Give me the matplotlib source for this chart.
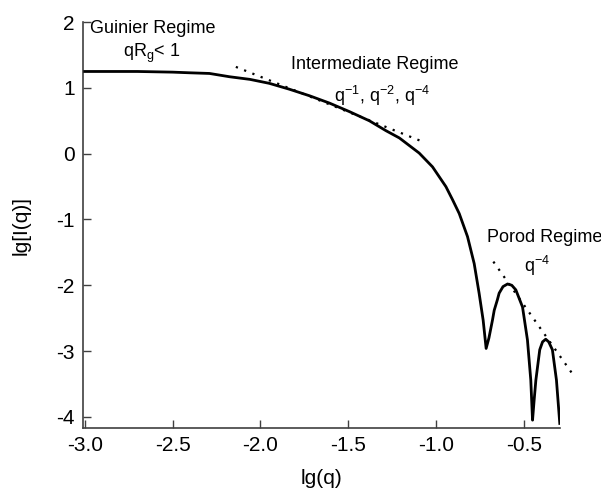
import matplotlib
matplotlib.use("Agg")
import matplotlib.pyplot as plt

# scattering curve: lg(q) vs lg[I(q)]
lg_q = [-3.0, -2.7, -2.5, -2.403, -2.29, -2.176, -2.06, -1.95, -1.835, -1.72,
        -1.608, -1.494, -1.38, -1.286, -1.21, -1.097, -1.021, -0.945, -0.907, -0.869,
        -0.822, -0.784, -0.756, -0.733, -0.716, -0.70, -0.68, -0.67, -0.652, -0.642,
        -0.62, -0.594, -0.57, -0.547, -0.509, -0.481, -0.462, -0.452, -0.443, -0.433,
        -0.411, -0.395, -0.377, -0.36, -0.339, -0.316, -0.297]
lg_i = [1.25, 1.25, 1.24, 1.23, 1.22, 1.17, 1.13, 1.07, 0.98, 0.88,
        0.77, 0.64, 0.50, 0.35, 0.24, 0.01, -0.20, -0.50, -0.70, -0.91,
        -1.26, -1.67, -2.12, -2.53, -2.96, -2.80, -2.53, -2.38, -2.22, -2.12,
        -2.02, -1.98, -2.00, -2.07, -2.33, -2.83, -3.44, -4.05, -3.75, -3.44,
        -2.98, -2.86, -2.82, -2.86, -2.98, -3.44, -4.10]

# dotted guide lines (end points)
inter_q = [-2.14, -1.065]
inter_i = [1.32, 0.17]
porod_q = [-0.675, -0.216]
porod_i = [-1.64, -3.38]

x_ticks = [-3.0, -2.5, -2.0, -1.5, -1.0, -0.5]
y_ticks = [-4, -3, -2, -1, 0, 1, 2]

plt.rcParams["font.family"] = ["Liberation Sans", "DejaVu Sans"]
plt.rcParams["mathtext.fontset"] = "custom"
plt.rcParams["mathtext.rm"] = "Liberation Sans"
plt.rcParams["mathtext.it"] = "Liberation Sans"

fig = plt.figure(figsize=(6.01, 4.92), dpi=100)
ax = fig.add_axes([0.138, 0.130, 0.794, 0.825])

ax.plot(lg_q, lg_i, color="black", lw=2.0, zorder=3)
ax.plot(inter_q, inter_i, color="black", lw=1.6, linestyle=(0, (1, 3)), clip_on=False)
ax.plot(porod_q, porod_i, color="black", lw=1.6, linestyle=(0, (1, 3)), clip_on=False)

ax.set_xlim(-3.01, -0.295)
ax.set_ylim(-4.17, 2.0)
ax.set_xticks(x_ticks)
ax.set_xticklabels([f"{t:.1f}" for t in x_ticks])
ax.set_yticks(y_ticks)
ax.set_yticklabels([str(t) for t in y_ticks])
ax.tick_params(direction="in", length=6, width=1, labelsize=15, color="#404040", pad=6)

for side in ("top", "right"):
    ax.spines[side].set_visible(False)
for side in ("left", "bottom"):
    ax.spines[side].set_color("#404040")
    ax.spines[side].set_linewidth(1.2)

ax.set_xlabel("lg(q)", fontsize=15, labelpad=10)
ax.set_ylabel("lg[I(q)]", fontsize=15, labelpad=18)

ax.text(-2.97, 1.91, "Guinier Regime", fontsize=13, ha="left", va="center")
ax.text(-2.62, 1.53, r"qR$_\mathrm{g}$< 1", fontsize=13, ha="center", va="center")
ax.text(-1.347, 1.35, "Intermediate Regime", fontsize=13, ha="center", va="center")
ax.text(-1.307, 0.88, r"q$^{-1}$, q$^{-2}$, q$^{-4}$", fontsize=13, ha="center", va="center")
ax.text(-0.713, -1.28, "Porod Regime", fontsize=13, ha="left", va="center", clip_on=False)
ax.text(-0.426, -1.70, r"q$^{-4}$", fontsize=13, ha="center", va="center")

fig.savefig("out.png", dpi=100)
